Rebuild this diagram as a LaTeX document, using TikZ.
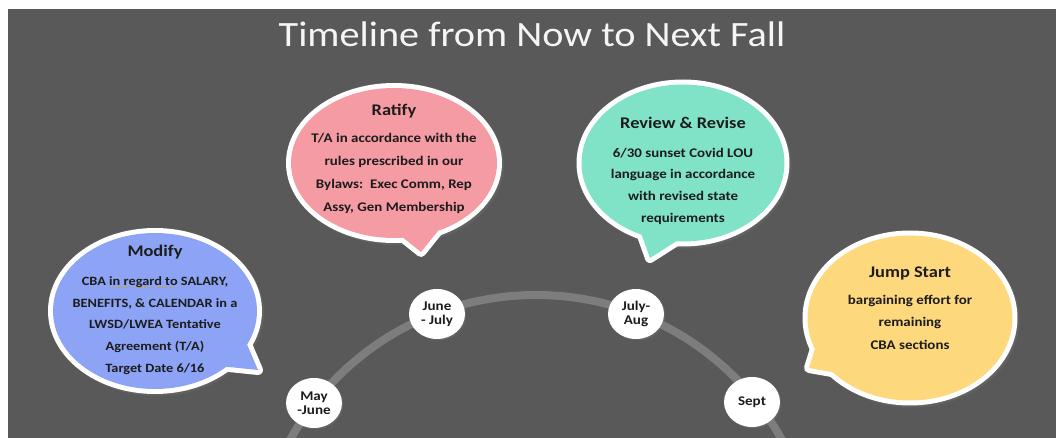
\documentclass[tikz,border=0pt]{standalone}
\usepackage{fontspec}
\setmainfont{Carlito}[FakeStretch=1.13]
\usetikzlibrary{shapes.geometric,shadows}

\definecolor{panel}{HTML}{595959}
\definecolor{track}{HTML}{7D7D7D}
\definecolor{ink}{HTML}{1C1C1C}
\definecolor{modblue}{HTML}{8DA4F6}
\definecolor{ratpink}{HTML}{F59BA3}
\definecolor{revteal}{HTML}{80E2C7}
\definecolor{jumpgold}{HTML}{FDD87D}
\definecolor{squig}{HTML}{D4A020}

% one unit = one pixel of the 1058 x 438 canvas
\newcommand\pxu{0.75pt}

% dotted grammar-check underline under a phrase
\newcommand\gramline[1]{\setbox0=\hbox{#1}\leavevmode\rlap{\raisebox{-2.2pt}[0pt][0pt]{\textcolor{squig}{\hbox to \wd0{\xleaders\hbox to 2.1pt{\hss\rule{1.1pt}{1.1pt}\hss}\hfill}}}}\box0\relax}

\pgfdeclarelayer{ground}
\pgfdeclarelayer{rims}
\pgfsetlayers{ground,rims,main}

\tikzset{
  rim/.style={ellipse, fill=white, inner sep=0pt, outer sep=0pt,
    drop shadow={opacity=0.22, shadow xshift=1.5pt, shadow yshift=-1.5pt}},
  bubble/.style={ellipse, inner sep=0pt, outer sep=0pt},
  tailrim/.style={fill=white, draw=white, line width=7.5pt, line join=round},
  bubbletext/.style={align=center, text=ink, inner sep=0pt},
  monthdot/.style={ellipse, fill=white, minimum width=56*\pxu, minimum height=50*\pxu,
    inner sep=0pt, align=center, text=ink, font=\bfseries\fontsize{10}{10.5}\selectfont,
    drop shadow={opacity=0.3, shadow xshift=1pt, shadow yshift=-1pt}},
  titletext/.style={text=white!96!black, font=\fontsize{26.7}{30}\selectfont},
}

\begin{document}
\begin{tikzpicture}[x=\pxu, y=-\pxu]
\useasboundingbox (0,0) rectangle (1058,438);

\begin{pgfonlayer}{ground}
  \fill[white] (0,0) rectangle (1058,438);
  \fill[panel] (8,9) rectangle (1056,438);
  \begin{scope}
    \clip (8,9) rectangle (1056,438);
    \coordinate (hub) at (536,576);
    \draw[track, line width=6pt] (hub) circle[radius=281];
  \end{scope}
\end{pgfonlayer}

% title
\node[titletext] (title) at (532,34) {Timeline from Now to Next Fall};

% months along the arc
\node[monthdot] (mayjune)  at (314,403) {May\\-June};
\node[monthdot] (junejuly) at (437,314) {June\\- July};
\node[monthdot] (julyaug)  at (636,314) {July-\\Aug};
\node[monthdot] (sept)     at (752,402) {Sept};

% ---- Modify bubble
\node[bubble, fill=modblue, minimum width=204*\pxu, minimum height=156*\pxu] (modify) at (155,311) {};
\coordinate (modify-tip) at (258,370);
\begin{pgfonlayer}{rims}
  \node[rim, minimum width=214*\pxu, minimum height=166*\pxu] (modify-rim) at (modify.center) {};
  \filldraw[tailrim] (modify.center) -- (modify.-20) -- (modify-tip) -- (modify.-38) -- cycle;
\end{pgfonlayer}
\fill[modblue] (modify.center) -- (modify.-20) -- (modify-tip) -- (modify.-38) -- cycle;
\node[bubbletext, font=\bfseries\fontsize{9.5}{16.3}\selectfont] (modify-text) at (155,310)
  {{\fontsize{12.2}{14}\selectfont Modify}\\[5pt]
   CBA \gramline{in regard to} SALARY,\\
   BENEFITS, \& CALENDAR in a\\
   LWSD/LWEA Tentative\\
   Agreement (T/A)\\
   Target Date 6/16};

% ---- Ratify bubble
\node[bubble, fill=ratpink, minimum width=206*\pxu, minimum height=150*\pxu] (ratify) at (394,163) {};
\coordinate (ratify-tip) at (421,252);
\begin{pgfonlayer}{rims}
  \node[rim, minimum width=216*\pxu, minimum height=160*\pxu] (ratify-rim) at (ratify.center) {};
  \filldraw[tailrim] (ratify.center) -- (ratify.-83) -- (ratify-tip) -- (ratify.-57) -- cycle;
\end{pgfonlayer}
\fill[ratpink] (ratify.center) -- (ratify.-83) -- (ratify-tip) -- (ratify.-57) -- cycle;
\node[bubbletext, font=\bfseries\fontsize{9.9}{17.2}\selectfont] (ratify-text) at (394,159)
  {{\fontsize{12.2}{14}\selectfont Ratify}\\[3pt]
   T/A in accordance with the\\
   rules prescribed in our\\
   Bylaws:\ \ Exec Comm, Rep\\
   Assy, Gen Membership};

% ---- Review & Revise bubble
\node[bubble, fill=revteal, minimum width=203*\pxu, minimum height=157*\pxu] (review) at (683,163) {};
\coordinate (review-tip) at (650,258);
\begin{pgfonlayer}{rims}
  \node[rim, minimum width=213*\pxu, minimum height=167*\pxu] (review-rim) at (review.center) {};
  \filldraw[tailrim] (review.center) -- (review.-120) -- (review-tip) -- (review.-95) -- cycle;
\end{pgfonlayer}
\fill[revteal] (review.center) -- (review.-120) -- (review-tip) -- (review.-95) -- cycle;
\node[bubbletext, font=\bfseries\fontsize{9.9}{16.5}\selectfont] (review-text) at (683,171)
  {{\fontsize{12.2}{14}\selectfont Review \& Revise}\\[5pt]
   6/30 sunset Covid LOU\\
   language in accordance\\
   with revised state\\
   requirements};

% ---- Jump Start bubble
\node[bubble, fill=jumpgold, minimum width=205*\pxu, minimum height=165*\pxu] (jump) at (910,318) {};
\coordinate (jump-tip) at (809,368);
\begin{pgfonlayer}{rims}
  \node[rim, minimum width=215*\pxu, minimum height=175*\pxu] (jump-rim) at (jump.center) {};
  \filldraw[tailrim] (jump.center) -- (jump.-162) -- (jump-tip) -- (jump.-145) -- cycle;
\end{pgfonlayer}
\fill[jumpgold] (jump.center) -- (jump.-162) -- (jump-tip) -- (jump.-145) -- cycle;
\node[bubbletext, font=\bfseries\fontsize{9.9}{16.9}\selectfont] (jump-text) at (910,308)
  {{\fontsize{12.2}{14}\selectfont Jump Start}\\[3pt]
   bargaining effort for\\
   remaining\\
   CBA sections};

\end{tikzpicture}
\end{document}
